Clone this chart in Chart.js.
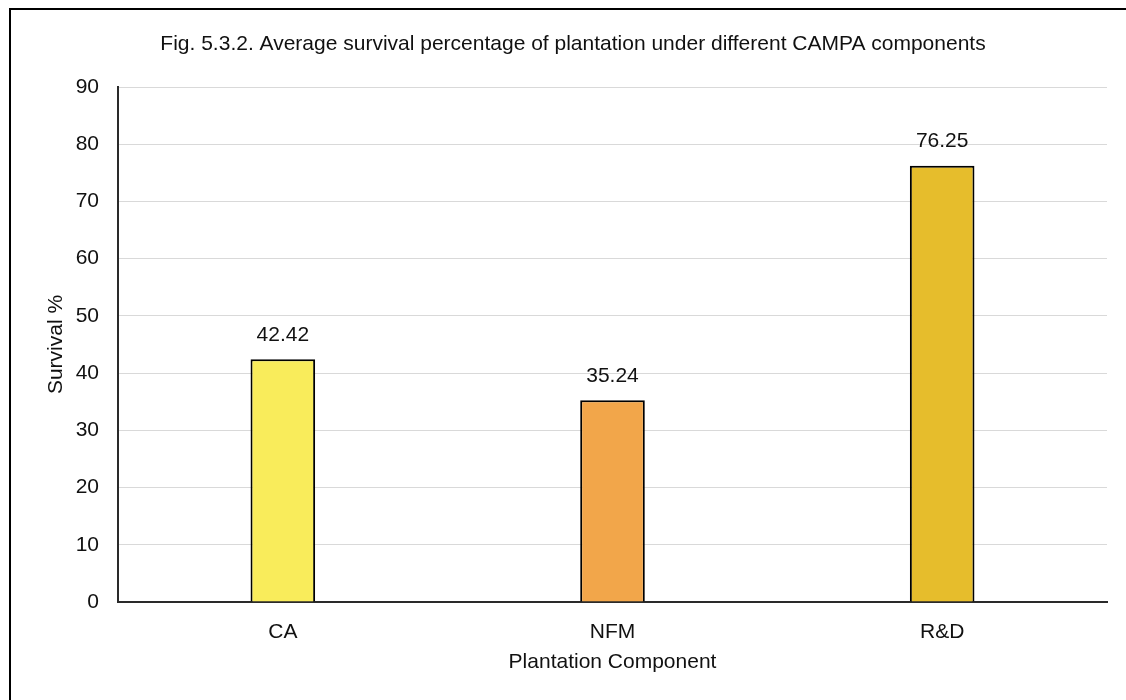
<!DOCTYPE html>
<html>
<head>
<meta charset="utf-8">
<script src="https://cdn.jsdelivr.net/npm/chart.js@4.4.1/dist/chart.umd.min.js"></script>
<style>
  html, body { margin: 0; padding: 0; background: #fff; }
  #wrap { position: relative; width: 1126px; height: 700px; overflow: hidden; }
  #frame { position: absolute; left: 9px; top: 8px; width: 1200px; height: 800px;
           border-top: 2px solid #000; border-left: 2px solid #000; box-sizing: border-box; }
  canvas { position: absolute; left: 0; top: 0; }
</style>
</head>
<body>
<div id="wrap">
  <div id="frame"></div>
  <canvas id="c" width="1126" height="700"></canvas>
</div>
<script>
// Survival percentage by CAMPA plantation component
const categories = ['CA', 'NFM', 'R&D'];
const survival = [42.42, 35.24, 76.25];
const barColors = ['#F9EC5B', '#F2A64A', '#E6BD2C'];
const yTicks = [0, 10, 20, 30, 40, 50, 60, 70, 80, 90];

const titleText = 'Fig. 5.3.2. Average survival percentage of plantation under different CAMPA components';
const FONT = 'Liberation Sans, Arial, sans-serif';
const FS = 21;

// Figure caption drawn above the plot area
const captionPlugin = {
  id: 'caption',
  afterDraw(chart) {
    const ctx = chart.ctx;
    ctx.save();
    ctx.font = FS + 'px ' + FONT;
    ctx.fillStyle = '#111';
    ctx.textAlign = 'center';
    ctx.textBaseline = 'middle';
    ctx.fillText(titleText, 573, 44);
    ctx.restore();
  }
};

// Value labels above each bar
const valueLabels = {
  id: 'valueLabels',
  afterDatasetsDraw(chart) {
    const ctx = chart.ctx;
    const meta = chart.getDatasetMeta(0);
    ctx.save();
    ctx.font = FS + 'px ' + FONT;
    ctx.fillStyle = '#111';
    ctx.textAlign = 'center';
    ctx.textBaseline = 'middle';
    meta.data.forEach((bar, i) => {
      ctx.fillText(survival[i].toFixed(2), bar.x, bar.y - 24);
    });
    ctx.restore();
  }
};

new Chart(document.getElementById('c'), {
  type: 'bar',
  data: {
    labels: categories,
    datasets: [{
      data: survival,
      backgroundColor: barColors,
      borderColor: '#000',
      borderWidth: 2,
      barPercentage: 0.196,
      categoryPercentage: 1
    }]
  },
  options: {
    responsive: false,
    devicePixelRatio: 1,
    animation: false,
    layout: { padding: { top: 87, left: 0, right: 19, bottom: 0 } },
    plugins: { legend: { display: false }, tooltip: { enabled: false }, title: { display: false } },
    scales: {
      x: {
        grid: { display: false, drawTicks: false },
        border: { display: true, color: '#2a2a2a', width: 2 },
        ticks: { color: '#111', font: { family: FONT, size: FS }, padding: 18 },
        title: { display: true, text: 'Plantation Component', color: '#111',
                 font: { family: FONT, size: FS }, padding: { top: 0, bottom: 25 } },
        afterFit(scale) { scale.height = 98; }
      },
      y: {
        min: 0, max: 90,
        afterBuildTicks(scale) { scale.ticks = yTicks.map(v => ({ value: v })); },
        grid: { color: '#D9D9D9', lineWidth: 1, drawTicks: false },
        border: { display: true, color: '#2a2a2a', width: 2 },
        ticks: { color: '#111', font: { family: FONT, size: FS }, padding: 19 },
        title: { display: true, text: 'Survival %', color: '#111',
                 font: { family: FONT, size: FS }, padding: { top: 44, bottom: 0 } },
        afterFit(scale) { scale.width = 118; }
      }
    }
  },
  plugins: [captionPlugin, valueLabels]
});
</script>
</body>
</html>
